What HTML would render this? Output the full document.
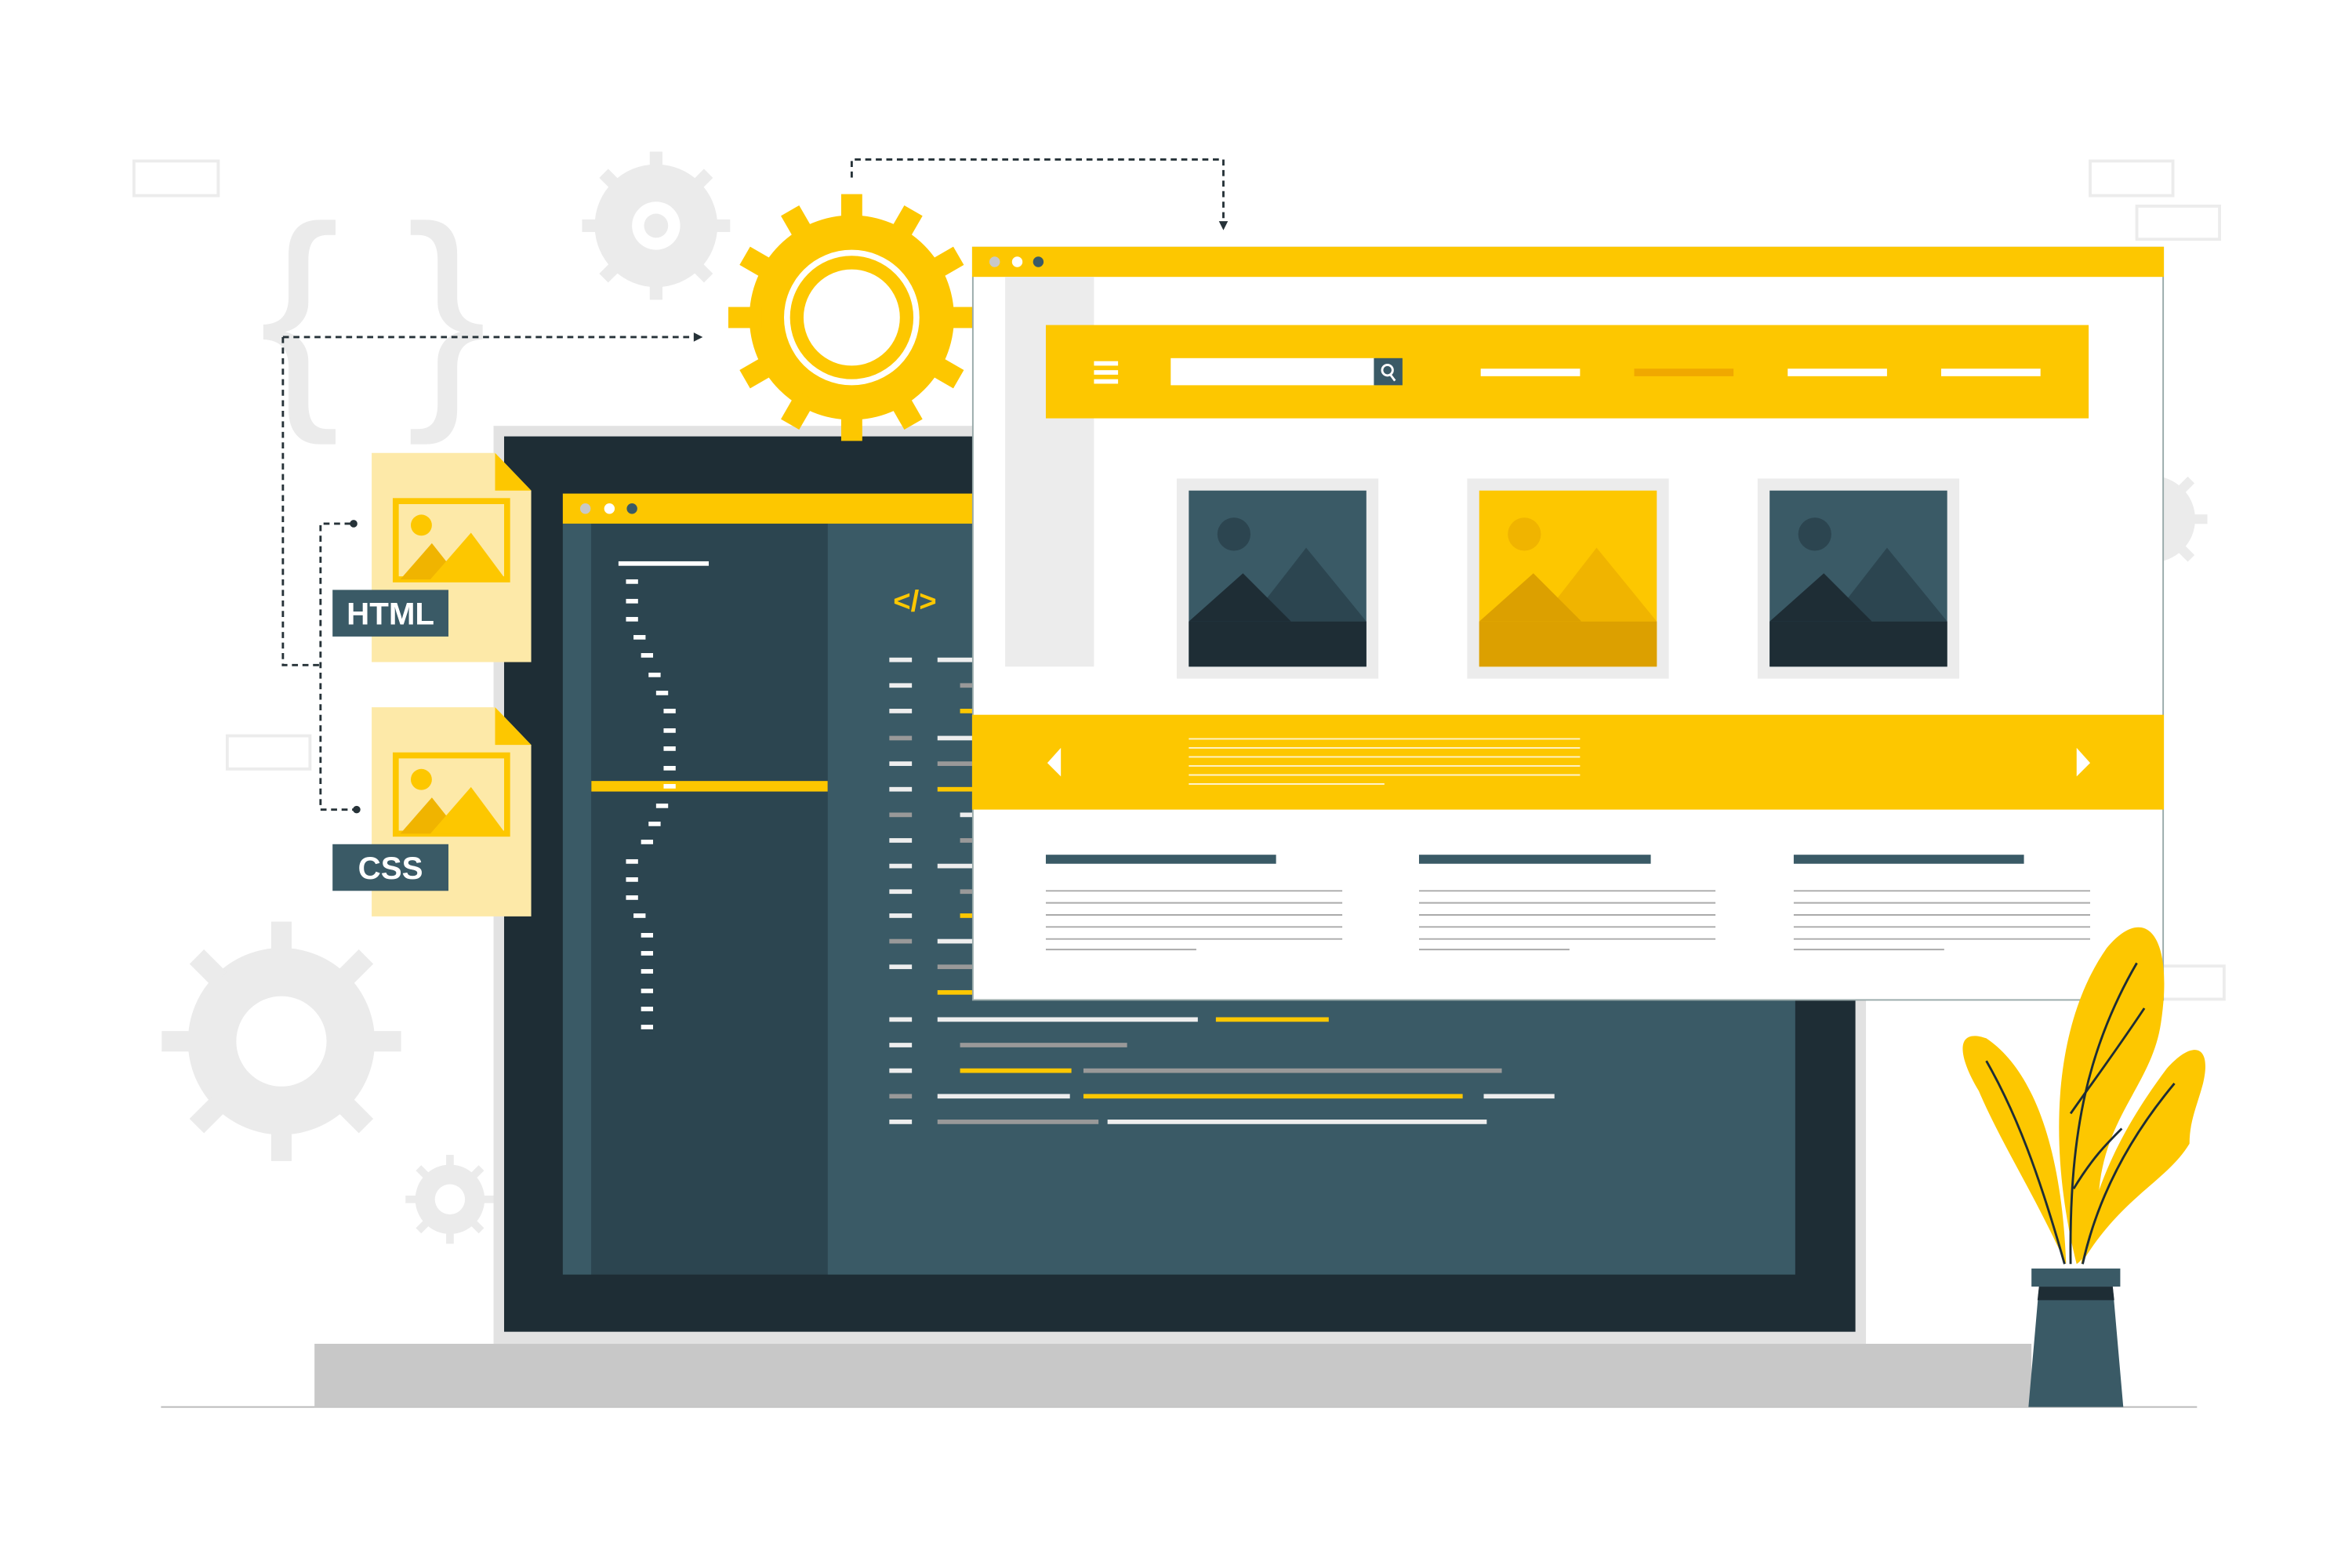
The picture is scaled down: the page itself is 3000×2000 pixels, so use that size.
<!DOCTYPE html>
<html><head><meta charset="utf-8"><style>html,body{margin:0;padding:0;background:#fff}svg{display:block}</style></head>
<body>
<svg width="3000" height="2000" viewBox="0 0 1563 1042" preserveAspectRatio="none" xmlns="http://www.w3.org/2000/svg" font-family="Liberation Sans, sans-serif">
<defs>
<g id="tooth"><rect x="-7" y="-82" width="14" height="22"/></g>
</defs>
<rect width="1563" height="1042" fill="#fff"/>
<!-- outline rects -->
<g fill="none" stroke="#ececec" stroke-width="2">
<rect x="89" y="107" width="56" height="23"/><rect x="1389" y="107" width="55" height="23"/><rect x="1420" y="137" width="55" height="22"/><rect x="151" y="489" width="55" height="22"/><rect x="1420" y="642" width="58" height="22"/>
</g>
<!-- braces -->
<text x="248" y="262" font-size="160" fill="#ebebeb" text-anchor="middle">{ }</text>
<!-- gray gears -->
<g fill="#ebebeb">
<g transform="translate(436,150) scale(0.6)"><circle r="68"/><g><use href="#tooth"/><use href="#tooth" transform="rotate(45)"/><use href="#tooth" transform="rotate(90)"/><use href="#tooth" transform="rotate(135)"/><use href="#tooth" transform="rotate(180)"/><use href="#tooth" transform="rotate(225)"/><use href="#tooth" transform="rotate(270)"/><use href="#tooth" transform="rotate(315)"/></g></g>
<g transform="translate(187,692) scale(0.97)"><circle r="64"/><use href="#tooth"/><use href="#tooth" transform="rotate(45)"/><use href="#tooth" transform="rotate(90)"/><use href="#tooth" transform="rotate(135)"/><use href="#tooth" transform="rotate(180)"/><use href="#tooth" transform="rotate(225)"/><use href="#tooth" transform="rotate(270)"/><use href="#tooth" transform="rotate(315)"/></g>
<g transform="translate(299,797) scale(0.36)"><circle r="64"/><use href="#tooth"/><use href="#tooth" transform="rotate(45)"/><use href="#tooth" transform="rotate(90)"/><use href="#tooth" transform="rotate(135)"/><use href="#tooth" transform="rotate(180)"/><use href="#tooth" transform="rotate(225)"/><use href="#tooth" transform="rotate(270)"/><use href="#tooth" transform="rotate(315)"/></g>
<g transform="translate(1430,345) scale(0.45)"><circle r="64"/><use href="#tooth" transform="rotate(45)"/><use href="#tooth" transform="rotate(90)"/><use href="#tooth" transform="rotate(135)"/></g>
</g>
<circle cx="436" cy="150" r="16" fill="#fff"/><circle cx="436" cy="150" r="8" fill="#ebebeb"/>
<circle cx="187" cy="692" r="30" fill="#fff"/>
<circle cx="299" cy="797" r="10" fill="#fff"/>
<!-- ground and base -->
<line x1="107" y1="935" x2="1460" y2="935" stroke="#bbb" stroke-width="1"/>
<rect x="209" y="893" width="1141" height="42" fill="#c8c8c8"/>
<!-- laptop screen -->
<rect x="328" y="283" width="912" height="610" fill="#e2e2e2"/>
<rect x="335" y="290" width="898" height="595" fill="#1e2d35"/>
<!-- code window -->
<rect x="374" y="328" width="280" height="20" fill="#fdc700"/>
<circle cx="389" cy="338" r="3.5" fill="#c8c8c8"/><circle cx="405" cy="338" r="3.5" fill="#fff"/><circle cx="420" cy="338" r="3.5" fill="#3a5a66"/>
<rect x="374" y="348" width="19" height="499" fill="#3a5a66"/>
<rect x="393" y="348" width="157" height="499" fill="#2c4550"/>
<rect x="550" y="348" width="643" height="499" fill="#3a5a66"/>
<rect x="393" y="519" width="157" height="7" fill="#fdc700"/>
<g fill="#fff">
<rect x="411" y="373" width="60" height="3"/>
<rect x="416" y="385" width="8" height="3"/><rect x="416" y="398" width="8" height="3"/><rect x="416" y="410" width="8" height="3"/><rect x="421" y="422" width="8" height="3"/><rect x="426" y="434" width="8" height="3"/><rect x="431" y="447" width="8" height="3"/><rect x="436" y="459" width="8" height="3"/><rect x="441" y="471" width="8" height="3"/><rect x="441" y="484" width="8" height="3"/><rect x="441" y="496" width="8" height="3"/><rect x="441" y="509" width="8" height="3"/><rect x="441" y="521" width="8" height="3"/><rect x="436" y="534" width="8" height="3"/><rect x="431" y="546" width="8" height="3"/><rect x="426" y="558" width="8" height="3"/><rect x="416" y="571" width="8" height="3"/><rect x="416" y="583" width="8" height="3"/><rect x="416" y="595" width="8" height="3"/><rect x="421" y="607" width="8" height="3"/><rect x="426" y="620" width="8" height="3"/><rect x="426" y="632" width="8" height="3"/><rect x="426" y="644" width="8" height="3"/><rect x="426" y="657" width="8" height="3"/><rect x="426" y="669" width="8" height="3"/><rect x="426" y="681" width="8" height="3"/>
</g>
<text x="608" y="406" font-size="20" fill="#fdc700" text-anchor="middle" font-weight="bold">&lt;/&gt;</text>
<g>
<rect x="591" y="437" width="15" height="3" fill="#eee"/><rect x="623" y="437" width="25" height="3" fill="#eee"/>
<rect x="591" y="454" width="15" height="3" fill="#eee"/><rect x="638" y="454" width="10" height="3" fill="#999"/>
<rect x="591" y="471" width="15" height="3" fill="#eee"/><rect x="638" y="471" width="10" height="3" fill="#fdc700"/>
<rect x="591" y="489" width="15" height="3" fill="#999"/><rect x="623" y="489" width="25" height="3" fill="#eee"/>
<rect x="591" y="506" width="15" height="3" fill="#eee"/><rect x="623" y="506" width="25" height="3" fill="#999"/>
<rect x="591" y="523" width="15" height="3" fill="#eee"/><rect x="623" y="523" width="25" height="3" fill="#fdc700"/>
<rect x="591" y="540" width="15" height="3" fill="#999"/><rect x="638" y="540" width="10" height="3" fill="#eee"/>
<rect x="591" y="557" width="15" height="3" fill="#eee"/><rect x="638" y="557" width="10" height="3" fill="#999"/>
<rect x="591" y="574" width="15" height="3" fill="#eee"/><rect x="623" y="574" width="25" height="3" fill="#eee"/>
<rect x="591" y="591" width="15" height="3" fill="#eee"/><rect x="638" y="591" width="10" height="3" fill="#999"/>
<rect x="591" y="607" width="15" height="3" fill="#eee"/><rect x="638" y="607" width="10" height="3" fill="#fdc700"/>
<rect x="591" y="624" width="15" height="3" fill="#999"/><rect x="623" y="624" width="25" height="3" fill="#eee"/>
<rect x="591" y="641" width="15" height="3" fill="#eee"/><rect x="623" y="641" width="25" height="3" fill="#999"/>
<rect x="623" y="658" width="25" height="3" fill="#fdc700"/>
<rect x="591" y="676" width="15" height="3" fill="#eee"/><rect x="623" y="676" width="173" height="3" fill="#eee"/><rect x="808" y="676" width="75" height="3" fill="#fdc700"/>
<rect x="591" y="693" width="15" height="3" fill="#eee"/><rect x="638" y="693" width="111" height="3" fill="#999"/>
<rect x="591" y="710" width="15" height="3" fill="#eee"/><rect x="638" y="710" width="74" height="3" fill="#fdc700"/><rect x="720" y="710" width="278" height="3" fill="#999"/>
<rect x="591" y="727" width="15" height="3" fill="#999"/><rect x="623" y="727" width="88" height="3" fill="#eee"/><rect x="720" y="727" width="252" height="3" fill="#fdc700"/><rect x="986" y="727" width="47" height="3" fill="#eee"/>
<rect x="591" y="744" width="15" height="3" fill="#eee"/><rect x="623" y="744" width="107" height="3" fill="#999"/><rect x="736" y="744" width="252" height="3" fill="#eee"/>
</g>
<!-- dashed connectors -->
<g fill="none" stroke="#263238" stroke-width="1.5" stroke-dasharray="4,3">
<polyline points="566,118 566,106 813,106 813,148"/>
<polyline points="188,224 461,224"/>
<polyline points="188,224 188,442 213,442"/>
<polyline points="233,348 213,348 213,538 235,538"/>
</g>
<path d="M461,221 L467,224 L461,227Z M810,147 L813,153 L816,147Z" fill="#263238"/>
<circle cx="235" cy="348" r="2.5" fill="#263238"/><circle cx="237" cy="538" r="2.5" fill="#263238"/>
<!-- files -->
<g>
<path d="M247,301 H329 L353,326 V440 H247Z" fill="#fde9a8"/><path d="M329,301 L353,326 H329Z" fill="#fdc700"/>
<rect x="263" y="333" width="74" height="52" fill="none" stroke="#fdc700" stroke-width="4"/>
<circle cx="280" cy="349" r="7" fill="#fdc700"/><path d="M266,385 L287,361 L306,385Z" fill="#f0b400"/><path d="M286,385 L313,354 L336,385Z" fill="#fdc700"/>
<rect x="221" y="392" width="77" height="31" fill="#3a5a66"/>
<text x="259.5" y="415" font-size="21" font-weight="bold" fill="#fff" text-anchor="middle">HTML</text>
<path d="M247,470 H329 L353,495 V609 H247Z" fill="#fde9a8"/><path d="M329,470 L353,495 H329Z" fill="#fdc700"/>
<rect x="263" y="502" width="74" height="52" fill="none" stroke="#fdc700" stroke-width="4"/>
<circle cx="280" cy="518" r="7" fill="#fdc700"/><path d="M266,554 L287,530 L306,554Z" fill="#f0b400"/><path d="M286,554 L313,523 L336,554Z" fill="#fdc700"/>
<rect x="221" y="561" width="77" height="31" fill="#3a5a66"/>
<text x="259.5" y="584" font-size="21" font-weight="bold" fill="#fff" text-anchor="middle">CSS</text>
</g>
<!-- yellow gear -->
<g fill="#fdc700" transform="translate(566,211)">
<circle r="68"/>
<use href="#tooth"/><use href="#tooth" transform="rotate(30)"/><use href="#tooth" transform="rotate(60)"/><use href="#tooth" transform="rotate(90)"/><use href="#tooth" transform="rotate(120)"/><use href="#tooth" transform="rotate(150)"/><use href="#tooth" transform="rotate(180)"/><use href="#tooth" transform="rotate(210)"/><use href="#tooth" transform="rotate(240)"/><use href="#tooth" transform="rotate(270)"/><use href="#tooth" transform="rotate(300)"/><use href="#tooth" transform="rotate(330)"/>
<circle r="45" fill="#fff"/><circle r="41"/><circle r="32" fill="#fff"/>
</g>
<!-- browser -->
<rect x="646.5" y="164.5" width="791" height="500" fill="#fff" stroke="#9aa" stroke-width="1"/>
<rect x="646" y="164" width="792" height="20" fill="#fdc700"/>
<circle cx="661" cy="174" r="3.5" fill="#c8c8c8"/><circle cx="676" cy="174" r="3.5" fill="#fff"/><circle cx="690" cy="174" r="3.5" fill="#3a5a66"/>
<rect x="668" y="184" width="59" height="259" fill="#ececec"/>
<rect x="695" y="216" width="693" height="62" fill="#fdc700"/>
<g fill="#fff"><rect x="727" y="240" width="16" height="3"/><rect x="727" y="246" width="16" height="3"/><rect x="727" y="252" width="16" height="3"/></g>
<rect x="778" y="238" width="136" height="18" fill="#fff"/><rect x="913" y="238" width="19" height="18" fill="#3a5a66"/>
<circle cx="922" cy="246" r="3.5" fill="none" stroke="#fff" stroke-width="1.5"/><line x1="924" y1="249" x2="927" y2="253" stroke="#fff" stroke-width="1.5"/>
<rect x="984" y="245" width="66" height="5" fill="#fff"/><rect x="1086" y="245" width="66" height="5" fill="#f0a800"/><rect x="1188" y="245" width="66" height="5" fill="#fff"/><rect x="1290" y="245" width="66" height="5" fill="#fff"/>
<!-- cards -->
<g>
<rect x="782" y="318" width="134" height="133" fill="#ececec"/><rect x="790" y="326" width="118" height="117" fill="#3a5a66"/>
<circle cx="820" cy="355" r="11" fill="#2c4550"/><path d="M840,400 L868,364 L908,413 L858,413Z" fill="#2c4550"/><path d="M790,413 L826,381 L858,413Z" fill="#1e2d35"/><rect x="790" y="413" width="118" height="30" fill="#1e2d35"/>
<rect x="975" y="318" width="134" height="133" fill="#ececec"/><rect x="983" y="326" width="118" height="117" fill="#fdc700"/>
<circle cx="1013" cy="355" r="11" fill="#f0b400"/><path d="M1033,400 L1061,364 L1101,413 L1051,413Z" fill="#f0b400"/><path d="M983,413 L1019,381 L1051,413Z" fill="#dca000"/><rect x="983" y="413" width="118" height="30" fill="#dca000"/>
<rect x="1168" y="318" width="134" height="133" fill="#ececec"/><rect x="1176" y="326" width="118" height="117" fill="#3a5a66"/>
<circle cx="1206" cy="355" r="11" fill="#2c4550"/><path d="M1226,400 L1254,364 L1294,413 L1244,413Z" fill="#2c4550"/><path d="M1176,413 L1212,381 L1244,413Z" fill="#1e2d35"/><rect x="1176" y="413" width="118" height="30" fill="#1e2d35"/>
</g>
<rect x="646" y="475" width="792" height="63" fill="#fdc700"/>
<path d="M705,497 L696,507 L705,516Z M1380,497 L1389,507 L1380,516Z" fill="#fff"/>
<g stroke="#fff" stroke-width="1" opacity="0.8"><line x1="790" y1="491" x2="1050" y2="491"/><line x1="790" y1="497" x2="1050" y2="497"/><line x1="790" y1="503" x2="1050" y2="503"/><line x1="790" y1="509" x2="1050" y2="509"/><line x1="790" y1="515" x2="1050" y2="515"/><line x1="790" y1="521" x2="920" y2="521"/></g>
<g fill="#3a5a66"><rect x="695" y="568" width="153" height="6"/><rect x="943" y="568" width="154" height="6"/><rect x="1192" y="568" width="153" height="6"/></g>
<g stroke="#aaa" stroke-width="1">
<line x1="695" y1="592" x2="892" y2="592"/><line x1="695" y1="600" x2="892" y2="600"/><line x1="695" y1="608" x2="892" y2="608"/><line x1="695" y1="616" x2="892" y2="616"/><line x1="695" y1="624" x2="892" y2="624"/><line x1="695" y1="631" x2="795" y2="631"/>
<line x1="943" y1="592" x2="1140" y2="592"/><line x1="943" y1="600" x2="1140" y2="600"/><line x1="943" y1="608" x2="1140" y2="608"/><line x1="943" y1="616" x2="1140" y2="616"/><line x1="943" y1="624" x2="1140" y2="624"/><line x1="943" y1="631" x2="1043" y2="631"/>
<line x1="1192" y1="592" x2="1389" y2="592"/><line x1="1192" y1="600" x2="1389" y2="600"/><line x1="1192" y1="608" x2="1389" y2="608"/><line x1="1192" y1="616" x2="1389" y2="616"/><line x1="1192" y1="624" x2="1389" y2="624"/><line x1="1192" y1="631" x2="1292" y2="631"/>
</g>
<!-- plant -->
<g fill="#fdc700">
<path d="M1380,840 C1360,760 1365,680 1400,630 C1425,600 1445,620 1436,680 C1430,720 1400,740 1395,790 C1392,815 1388,835 1380,840Z"/>
<path d="M1373,840 C1350,790 1330,760 1315,725 C1300,700 1300,683 1320,690 C1350,710 1370,760 1373,840Z"/>
<path d="M1383,840 C1390,790 1410,750 1440,710 C1458,690 1470,695 1464,720 C1460,735 1455,745 1455,760 C1440,785 1410,795 1383,840Z"/>
</g>
<g fill="none" stroke="#1e2d35" stroke-width="1.5">
<path d="M1376,840 C1375,760 1385,700 1420,640"/><path d="M1372,840 C1355,780 1340,740 1320,705"/><path d="M1384,840 C1395,790 1420,750 1445,720"/><path d="M1378,790 C1390,770 1400,760 1410,750"/><path d="M1376,740 C1390,720 1405,700 1425,670"/>
</g>
<rect x="1350" y="843" width="59" height="12" fill="#3a5a66"/>
<path d="M1355,855 H1404 L1411,935 H1348Z" fill="#3a5a66"/>
<path d="M1355,855 H1404 L1405,864 H1354Z" fill="#1e2d35"/>
</svg>
</body></html>
